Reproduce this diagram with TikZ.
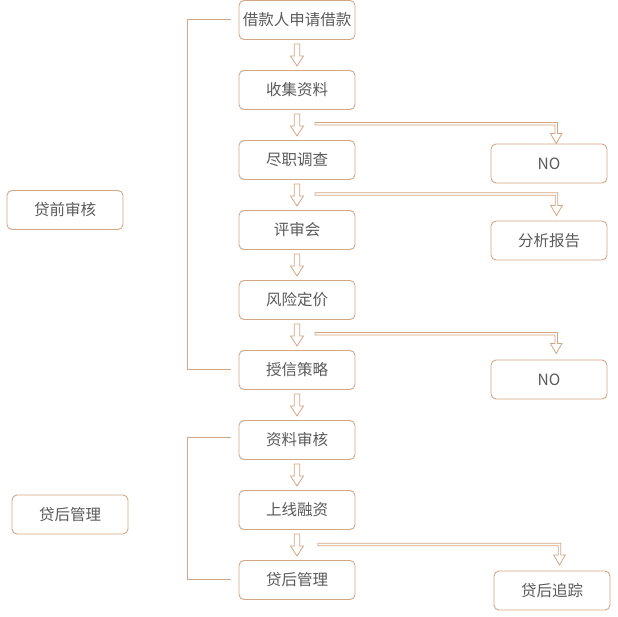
\documentclass[tikz,border=0pt]{standalone}
\usepackage{fontspec}
\newfontfamily\cjk{Noto Sans CJK SC}
\usetikzlibrary{calc}
\definecolor{tan}{HTML}{D4A683}
\definecolor{txt}{HTML}{5A5A5A}
\tikzset{
  box/.style={draw=tan, line width=0.9pt, rounded corners=5pt, fill=white,
    minimum width=116pt, minimum height=39pt, inner sep=0pt,
    font=\cjk\fontsize{15.5}{18}\selectfont, text=txt},
  arr/.style={draw=tan, line width=0.8pt, fill=white, line join=miter},
  bracket/.style={draw=tan, line width=1pt}
}
% hollow down arrow between two stacked boxes
\newcommand\downlink[2]{%
  \draw[arr] ($(#1.south)+(-2.8,4)$) -- ++(0,12) -- ++(-3.7,0) -- ++(6.5,10)
    -- ++(6.5,-10) -- ++(-3.7,0) -- ++(0,-12) -- cycle;}
% hollow double-line connector: right along the row, then down to an end point
\newcommand\sidelink[2]{%
  \draw[arr] ($(#1)+(0,-1.2)$) -- ($(#2|-#1)+(1.2,-1.2)$) -- ($(#2)+(1.2,-10)$)
    -- ($(#2)+(5.8,-10)$) -- (#2) -- ($(#2)+(-5.8,-10)$) -- ($(#2)+(-1.2,-10)$)
    -- ($(#2|-#1)+(-1.2,1.2)$) -- ($(#1)+(0,1.2)$) -- cycle;}
\begin{document}
\begin{tikzpicture}[x=1pt,y=-1pt]
\useasboundingbox (0,0) rectangle (618,616);
\fill[white] (0,0) rectangle (618,616);

% main column
\node[box] (b1) at (297,20)  {借款人申请借款};
\node[box] (b2) at (297,90)  {收集资料};
\node[box] (b3) at (297,160) {尽职调查};
\node[box] (b4) at (297,230) {评审会};
\node[box] (b5) at (297,300) {风险定价};
\node[box] (b6) at (297,370) {授信策略};
\node[box] (b7) at (297,440) {资料审核};
\node[box] (b8) at (297,510) {上线融资};
\node[box] (b9) at (297,580) {贷后管理};

% side results
\node[box] (r1) at (549,163.5) {NO};
\node[box] (r2) at (549,240.5) {分析报告};
\node[box] (r3) at (549,379.5) {NO};
\node[box] (r4) at (552,590.5) {贷后追踪};

% stage labels
\node[box] (s1) at (65,210)   {贷前审核};
\node[box] (s2) at (70,514.5) {贷后管理};

% stage brackets
\draw[bracket] (231,19.5) -- (187,19.5) -- (187,369.5) -- (231,369.5);
\draw[bracket] (231,437.5) -- (187,437.5) -- (187,579.5) -- (231,579.5);

% vertical flow
\downlink{b1}{b2}
\downlink{b2}{b3}
\downlink{b3}{b4}
\downlink{b4}{b5}
\downlink{b5}{b6}
\downlink{b6}{b7}
\downlink{b7}{b8}
\downlink{b8}{b9}

% branches to the right
\coordinate (a1) at (315,123.7); \coordinate (e1) at (556.2,143.5);
\coordinate (a2) at (315,194);   \coordinate (e2) at (556.5,215.5);
\coordinate (a3) at (315,333.7); \coordinate (e3) at (556.2,353.5);
\coordinate (a4) at (318,544.5); \coordinate (e4) at (559.5,565);
\sidelink{a1}{e1}
\sidelink{a2}{e2}
\sidelink{a3}{e3}
\sidelink{a4}{e4}
\end{tikzpicture}
\end{document}
